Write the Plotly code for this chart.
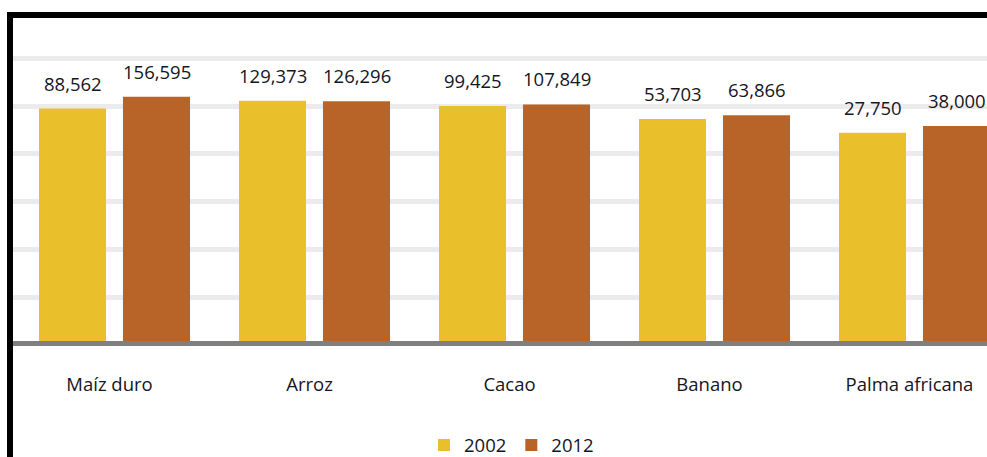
import math
import plotly.graph_objects as go

categories = ["Maíz duro", "Arroz", "Cacao", "Banano", "Palma africana"]
years = ["2002", "2012"]
values_2002 = [88562, 129373, 99425, 53703, 27750]
values_2012 = [156595, 126296, 107849, 63866, 38000]

color_2002 = "#EABF2C"
color_2012 = "#B86428"
text_color = "#15151F"
font_family = "Open Sans"

W, H = 987, 457
plot_left, plot_right = 13, 987
plot_top, plot_bottom = 18, 342
decade_px = 47.86
zero_px = 345.3  # pixel of 10^0

bargap = 0.16
bargroupgap = 0.202

y_lo = (zero_px - plot_bottom) / decade_px
y_hi = y_lo + (plot_bottom - plot_top) / decade_px

cat_px = 200.0
first_center = 114.5
x_lo = (plot_left - first_center) / cat_px
x_hi = (plot_right - first_center) / cat_px

fig = go.Figure()
for name, vals, col in [(years[0], values_2002, color_2002), (years[1], values_2012, color_2012)]:
    fig.add_trace(go.Bar(
        name=name, x=categories, y=vals,
        marker=dict(color=col, line=dict(width=0)),
        hoverinfo="x+y",
    ))

# value labels
half = (1 - bargap) / 4
annotations = []
for i in range(len(categories)):
    for off, vals in [(-half, values_2002), (half, values_2012)]:
        annotations.append(dict(
            x=i + off, y=math.log10(vals[i]), xref="x", yref="y",
            text=f"{vals[i]:,}", showarrow=False, yanchor="bottom", yshift=11,
            font=dict(family=font_family, size=18.5, color=text_color),
        ))

pw = plot_right - plot_left
ph = plot_bottom - plot_top
def px_x(p):
    return (p - plot_left) / pw
def px_y(p):
    return (plot_bottom - p) / ph

shapes = [
    # baseline
    dict(type="line", xref="paper", yref="paper", x0=0, x1=px_x(1000),
         y0=px_y(343.5), y1=px_y(343.5), line=dict(color="#7F7F7F", width=5), layer="above"),
    # black frame
    dict(type="rect", xref="paper", yref="paper", x0=px_x(7), x1=px_x(1000),
         y0=px_y(18), y1=px_y(12), fillcolor="black", line=dict(width=0), layer="above"),
    dict(type="rect", xref="paper", yref="paper", x0=px_x(7), x1=px_x(13),
         y0=px_y(470), y1=px_y(12), fillcolor="black", line=dict(width=0), layer="above"),
]

fig.update_layout(
    width=W, height=H,
    margin=dict(l=plot_left, r=W - plot_right, t=plot_top, b=H - plot_bottom, pad=0,
                autoexpand=False),
    paper_bgcolor="white", plot_bgcolor="white",
    barmode="group", bargap=bargap, bargroupgap=bargroupgap,
    font=dict(family=font_family, size=18.5, color=text_color),
    showlegend=True,
    legend=dict(orientation="h", xref="paper", x=px_x(424), xanchor="left",
                yref="container", y=1 - 445.5 / H, yanchor="middle",
                font=dict(family=font_family, size=18.5, color=text_color),
                bgcolor="rgba(0,0,0,0)", itemclick=False),
    annotations=annotations,
    shapes=shapes,
    xaxis=dict(type="category", range=[x_lo, x_hi], showline=False, automargin=False,
               ticks="", showgrid=False, ticklabelstandoff=29, ticklabelshift=-5,
               tickfont=dict(family=font_family, size=18.5, color=text_color), fixedrange=True),
    yaxis=dict(type="log", range=[y_lo, y_hi], dtick=1, showgrid=True, gridcolor="#EBEBEB",
               gridwidth=5, showticklabels=False, ticks="", showline=False, zeroline=False,
               automargin=False, fixedrange=True),
)

fig.write_html(
    "out.html",
    config={"displayModeBar": False},
    post_script="document.body.style.margin='0';document.documentElement.style.overflow='hidden';document.body.style.overflow='hidden';",
)
